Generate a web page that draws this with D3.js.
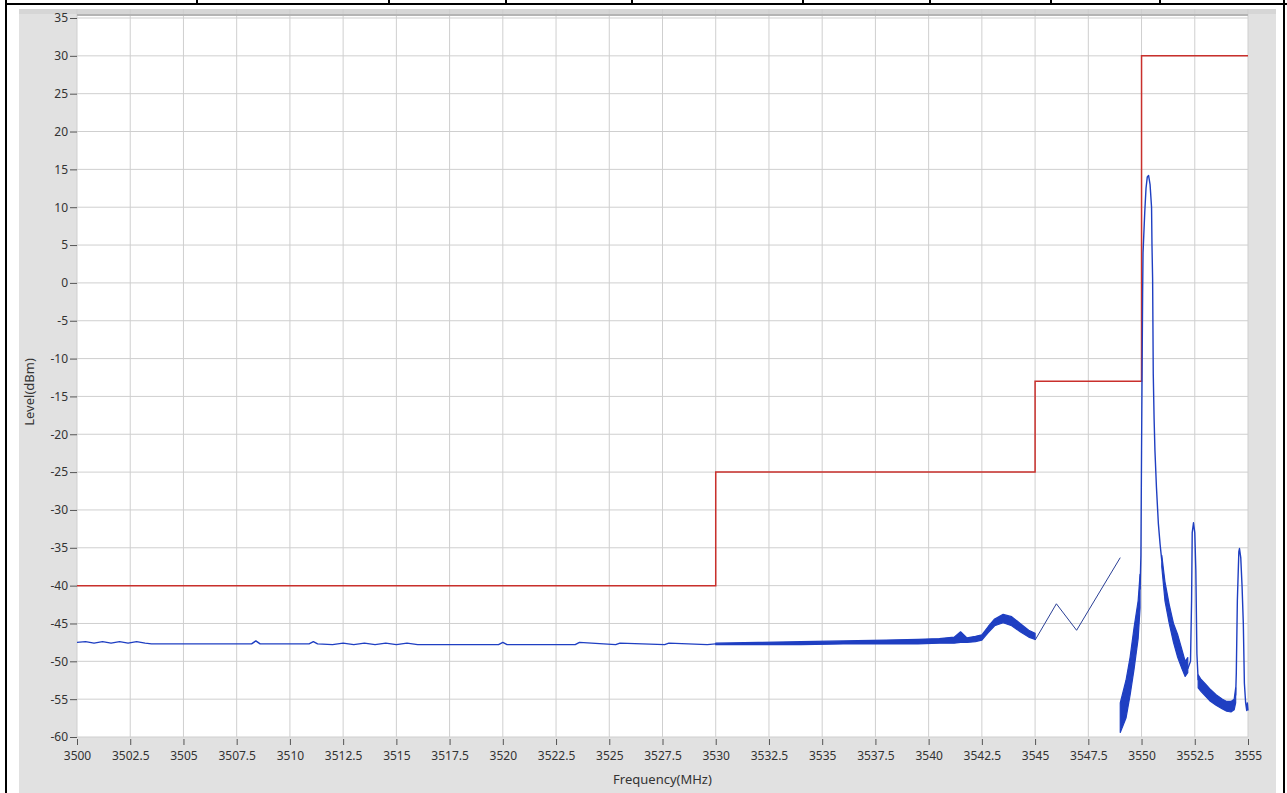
<!DOCTYPE html>
<html>
<head>
<meta charset="utf-8">
<script src="https://cdn.jsdelivr.net/npm/d3@7"></script>
<style>
html,body{margin:0;padding:0;background:#fff;}
svg{display:block;}
text{font-family:"Noto Sans","DejaVu Sans",sans-serif;}
</style>
</head>
<body>
<svg id="chart" width="1287" height="793"></svg>
<script>
// ---------- data ----------
const xTicks = [3500,3502.5,3505,3507.5,3510,3512.5,3515,3517.5,3520,3522.5,3525,3527.5,3530,3532.5,3535,3537.5,3540,3542.5,3545,3547.5,3550,3552.5,3555];
const yTicks = [35,30,25,20,15,10,5,0,-5,-10,-15,-20,-25,-30,-35,-40,-45,-50,-55,-60];
const xTitle = "Frequency(MHz)";
const yTitle = "Level(dBm)";

// emission mask (red)
const maskFreq  = [3500,3530,3530,3545,3545,3550,3550,3555];
const maskLevel = [-40,-40,-25,-25,-13,-13,30,30];

// measured trace: thin noise floor 3500-3530
const floorFreq  = [3500,3500.4,3500.8,3501.2,3501.6,3502,3502.4,3502.8,3503.2,3503.5,3508.2,3508.4,3508.6,3510.9,3511.1,3511.3,3512,3512.5,3513,3513.5,3514,3514.5,3515,3515.5,3516,3516.6,3519.8,3520,3520.2,3523.4,3523.6,3525.3,3525.5,3527.6,3527.8,3529.6,3530];
const floorLevel = [-47.5,-47.4,-47.6,-47.4,-47.6,-47.4,-47.6,-47.4,-47.6,-47.7,-47.7,-47.3,-47.7,-47.7,-47.4,-47.7,-47.8,-47.6,-47.8,-47.6,-47.8,-47.6,-47.8,-47.6,-47.8,-47.8,-47.8,-47.5,-47.8,-47.8,-47.5,-47.8,-47.6,-47.8,-47.6,-47.8,-47.7];

// noisy band 3530-3545 (min / max envelope)
const bandFreq = [3530,3532,3534,3536,3538,3539.5,3540.5,3541.2,3541.5,3541.8,3542.2,3542.5,3542.8,3543.1,3543.5,3543.9,3544.3,3544.7,3545];
const bandLo   = [-47.8,-47.8,-47.8,-47.7,-47.7,-47.7,-47.6,-47.6,-47.5,-47.5,-47.4,-47.2,-46.2,-45.3,-44.9,-45.3,-46.1,-46.8,-47.1];
const bandHi   = [-47.6,-47.5,-47.4,-47.3,-47.2,-47.1,-47.0,-46.8,-46.1,-46.9,-46.7,-46.5,-45.4,-44.4,-43.8,-44.1,-45.0,-45.9,-46.3];

// thin sweep segment 3545-3549
const sweepFreq  = [3545,3546,3546.95,3549];
const sweepLevel = [-47.2,-42.4,-45.9,-36.3];

// rising noisy band before the carrier
const riseFreq = [3549.0,3549.27,3549.46,3549.65,3549.84,3549.93];
const riseLo   = [-59.4,-57.5,-54.5,-51.0,-47.0,-43.0];
const riseHi   = [-55.5,-52.5,-49.5,-45.5,-42.0,-38.5];

// carrier peak (thin)
const peakFreq  = [3549.93,3549.97,3550.0,3550.05,3550.07,3550.15,3550.21,3550.27,3550.33,3550.4,3550.47,3550.49,3550.52,3550.55,3550.59,3550.63,3550.7,3550.79,3550.87,3550.95];
const peakLevel = [-40.5,-36,-22.2,-1.6,4,9.3,12.5,14,14.2,13,10,5,0.5,-12,-18,-22.2,-27,-31.8,-34.5,-36.7];

// descending noisy band after the carrier
const descFreq = [3550.95,3551.1,3551.3,3551.5,3551.7,3551.9,3552.05,3552.17];
const descLo   = [-37.5,-42.0,-45.0,-47.5,-49.5,-51.0,-52.0,-51.5];
const descHi   = [-36.0,-39.5,-42.5,-45.0,-46.5,-48.5,-50.0,-49.5];

// spur at 3552.45 (thin)
const spur1Freq  = [3552.17,3552.3,3552.35,3552.38,3552.44,3552.5,3552.55,3552.6,3552.66];
const spur1Level = [-51,-50,-42,-33,-31.7,-33,-38,-49,-52.5];

// noisy floor 3552.66-3554.42
const tailFreq = [3552.66,3552.8,3553.0,3553.2,3553.5,3553.8,3554.0,3554.2,3554.35,3554.42];
const tailLo   = [-53.5,-54.0,-54.6,-55.2,-55.8,-56.3,-56.6,-56.7,-56.4,-55.5];
const tailHi   = [-51.8,-52.4,-53.0,-53.6,-54.4,-55.0,-55.3,-55.3,-55.0,-53.5];

// spur at 3554.6 (thin)
const spur2Freq  = [3554.42,3554.45,3554.5,3554.57,3554.6,3554.66,3554.72,3554.78,3554.83,3554.89,3554.94,3554.97,3555];
const spur2Level = [-54.5,-51.6,-42,-35.5,-35.1,-36.3,-40,-45,-52.9,-55.5,-56.5,-55.5,-56.5];

// ---------- drawing ----------
const svg = d3.select("#chart");
const W = 1287, H = 793;
const plot = {left:77, top:18, right:1248, bottom:737};

// frame / table lines
svg.append("rect").attr("x",0).attr("y",0).attr("width",W).attr("height",H).attr("fill","#fff");
svg.append("rect").attr("x",19).attr("y",9).attr("width",1257).attr("height",H-9).attr("fill","#e1e1e1");
svg.append("rect").attr("x",19).attr("y",9).attr("width",1257).attr("height",5).attr("fill","#d6d6d6");
svg.append("line").attr("x1",6).attr("x2",6).attr("y1",0).attr("y2",H).attr("stroke","#000").attr("stroke-width",2);
svg.append("line").attr("x1",1284).attr("x2",1284).attr("y1",0).attr("y2",H).attr("stroke","#000").attr("stroke-width",2);
svg.append("line").attr("x1",6).attr("x2",W).attr("y1",4).attr("y2",4).attr("stroke","#000").attr("stroke-width",2);
const dividers = [197,389,506,632,803,930,1051,1160];
svg.selectAll("line.div").data(dividers).enter().append("line")
  .attr("x1",d=>d).attr("x2",d=>d).attr("y1",0).attr("y2",4).attr("stroke","#000").attr("stroke-width",2);

const x = d3.scaleLinear().domain([3500,3555]).range([plot.left,plot.right]);
const y = d3.scaleLinear().domain([-60,35]).range([plot.bottom,plot.top]);

svg.append("rect").attr("x",plot.left).attr("y",15)
  .attr("width",plot.right-plot.left).attr("height",plot.bottom-15).attr("fill","#fff");

// grid
const grid = svg.append("g");
grid.selectAll("line.gx").data(xTicks).enter().append("line")
  .attr("x1",d=>x(d)).attr("x2",d=>x(d)).attr("y1",9).attr("y2",plot.bottom)
  .attr("stroke","#cfcfcf").attr("stroke-width",1);
grid.selectAll("line.gy").data(yTicks).enter().append("line")
  .attr("x1",plot.left).attr("x2",plot.right).attr("y1",d=>y(d)).attr("y2",d=>y(d))
  .attr("stroke","#cfcfcf").attr("stroke-width",1);
svg.append("line").attr("x1",plot.left).attr("x2",plot.right).attr("y1",15).attr("y2",15)
  .attr("stroke","#b4b4b4").attr("stroke-width",2);

// axes
const xAxis = d3.axisBottom(x).tickValues(xTicks).tickFormat(d=>String(d)).tickSize(6).tickPadding(6);
const yAxis = d3.axisLeft(y).tickValues(yTicks).tickFormat(d=>String(d)).tickSize(7).tickPadding(2);
const gx = svg.append("g").attr("transform",`translate(0,${plot.bottom+2})`).call(xAxis);
const gy = svg.append("g").attr("transform",`translate(${plot.left},0)`).call(yAxis);
[gx,gy].forEach(g=>{
  g.select(".domain").remove();
  g.selectAll(".tick line").attr("stroke","#555").attr("stroke-width",1);
  g.selectAll(".tick text").attr("fill","#333").style("font-size","12px")
   .style("font-family","'Noto Sans','DejaVu Sans',sans-serif");
});

svg.append("text").attr("x",(plot.left+plot.right)/2).attr("y",784)
  .attr("text-anchor","middle").attr("fill","#333").style("font-size","13px").text(xTitle);
svg.append("text").attr("transform","translate(34,392) rotate(-90)")
  .attr("text-anchor","middle").attr("fill","#333").style("font-size","13px").text(yTitle);

// series
const blue = "#1f3fc2";
const line = d3.line().x(d=>x(d[0])).y(d=>y(d[1]));
const area = d3.area().x(d=>x(d[0])).y0(d=>y(d[1])).y1(d=>y(d[2]));
const zip2 = (a,b)=>a.map((v,i)=>[v,b[i]]);
const zip3 = (a,b,c)=>a.map((v,i)=>[v,b[i],c[i]]);

svg.append("defs").append("clipPath").attr("id","pc").append("rect")
  .attr("x",plot.left).attr("y",plot.top-4).attr("width",plot.right-plot.left+1).attr("height",plot.bottom-plot.top+6);
const series = svg.append("g").attr("clip-path","url(#pc)");

// mask
series.append("path").attr("d",line(zip2(maskFreq,maskLevel)))
  .attr("fill","none").attr("stroke","#c9302c").attr("stroke-width",1.5);

// trace
[[floorFreq,floorLevel],[sweepFreq,sweepLevel],[peakFreq,peakLevel],[spur1Freq,spur1Level],[spur2Freq,spur2Level]].forEach(([f,l],i)=>{
  series.append("path").attr("d",line(zip2(f,l)))
    .attr("fill","none").attr("stroke",i===1?"#2a3f96":blue).attr("stroke-width",i===1?1:1.4)
    .attr("stroke-linejoin","round");
});
[[bandFreq,bandLo,bandHi],[riseFreq,riseLo,riseHi],[descFreq,descLo,descHi],[tailFreq,tailLo,tailHi]].forEach(([f,lo,hi])=>{
  series.append("path").attr("d",area(zip3(f,lo,hi)))
    .attr("fill",blue).attr("stroke",blue).attr("stroke-width",1.2).attr("stroke-linejoin","round");
});
</script>
</body>
</html>
